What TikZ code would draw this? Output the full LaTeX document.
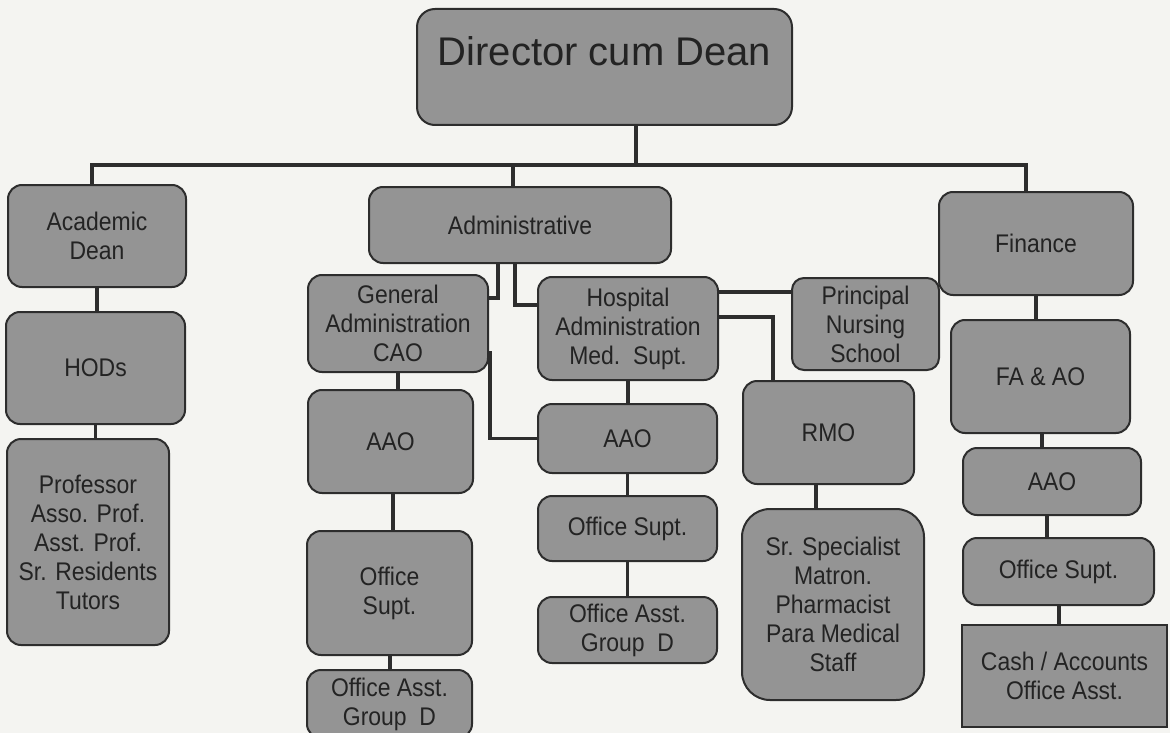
\documentclass[tikz,border=0pt]{standalone}
\usepackage{fontspec}
\setmainfont{Liberation Sans}
\newfontfamily\boxfont{Liberation Sans}[FakeStretch=0.9]
\definecolor{bg}{RGB}{244,244,241}
\definecolor{boxgray}{RGB}{148,148,148}
\definecolor{edge}{RGB}{45,45,45}
\definecolor{txt}{RGB}{35,35,35}
\definecolor{wire}{RGB}{45,45,45}
\tikzset{
  box/.style={draw=edge, line width=2pt, fill=boxgray, rounded corners=14pt,
    align=center, inner sep=2pt, text=txt, font=\boxfont\fontsize{25.5}{29}\selectfont},
  wire/.style={draw=wire, line width=3.6pt, line cap=rect, line join=miter},
}
\begin{document}
\begin{tikzpicture}[x=1pt,y=-1pt]
\fill[bg] (0,0) rectangle (1170,733);
\useasboundingbox (0,0) rectangle (1170,733);

% top
\node[box, anchor=north, rounded corners=18pt, minimum width=375pt, inner ysep=0pt,
      text height=57pt, text depth=59pt, font=\fontsize{40}{48}\selectfont]
      (dir) at (604.5,8) {Director cum Dean};

% academic column
\node[box, minimum width=178pt, minimum height=102pt] (acad) at (97,236) {Academic\\Dean};
\node[box, minimum width=179pt, minimum height=112pt] (hods) at (95.5,368) {HODs};
\node[box, minimum width=162pt, minimum height=206pt] (prof) at (88,542)
  {Professor\\Asso. Prof.\\Asst. Prof.\\Sr. Residents\\Tutors};

% administrative
\node[box, minimum width=302pt, minimum height=76pt] (admin) at (520,225) {Administrative};
\node[box, minimum width=180pt, minimum height=97pt] (ga) at (398,323.5)
  {General\\Administration\\CAO};
\node[box, minimum width=165pt, minimum height=103pt] (gaaao) at (390.5,441.5) {AAO};
\node[box, minimum width=165pt, minimum height=124pt] (gaos) at (389.5,593) {Office\\Supt.};
\node[box, minimum width=165pt, minimum height=68pt] (gaoa) at (389.5,704)
  {Office Asst.\\Group\ \ D};

\node[box, minimum width=180pt, minimum height=103pt] (hosp) at (628,328.5)
  {Hospital\\Administration\\Med.\ \ Supt.};
\node[box, minimum width=179pt, minimum height=69pt] (haao) at (627.5,438.5) {AAO};
\node[box, minimum width=179pt, minimum height=65pt] (hos) at (627.5,528.5) {Office Supt.};
\node[box, minimum width=179pt, minimum height=66pt] (hoa) at (627.5,630)
  {Office Asst.\\Group\ \ D};

\node[box, rounded corners=12pt, minimum width=147pt, minimum height=92pt] (pns) at (865.5,324)
  {Principal\\Nursing\\School};
\node[box, minimum width=171pt, minimum height=103pt] (rmo) at (828.5,432.5) {RMO};
\node[box, rounded corners=28pt, minimum width=182pt, minimum height=191pt] (srs) at (833,604.5)
  {Sr. Specialist\\Matron.\\Pharmacist\\Para Medical\\Staff};

% finance
\node[box, minimum width=194pt, minimum height=103pt] (fin) at (1036,243.5) {Finance};
\node[box, minimum width=179pt, minimum height=113pt] (faao) at (1040.5,376.5) {FA \& AO};
\node[box, minimum width=178pt, minimum height=67pt] (faaao) at (1052,481.5) {AAO};
\node[box, minimum width=191pt, minimum height=67pt] (fos) at (1058.5,571.5) {Office Supt.};
\node[box, rounded corners=0pt, minimum width=205pt, minimum height=102pt] (cash) at (1064.5,676)
  {Cash / Accounts\\Office Asst.};

% bus
\coordinate (busL) at (92,165);
\coordinate (busR) at (1026,165);
\coordinate (busD) at (636,165);
\coordinate (busA) at (513,165);
\draw[wire] (busL) -- (busR);
\draw[wire] (dir.south -| busD) -- (busD);
\draw[wire] (busL) -- (busL |- acad.north);
\draw[wire] (busA) -- (busA |- admin.north);
\draw[wire] (busR) -- (busR |- fin.north);

% academic chain
\draw[wire] (acad.south) -- (acad.south |- hods.north);
\draw[wire] (hods.south) -- (hods.south |- prof.north);

% administrative branches
\coordinate (k1) at (498,298);
\coordinate (k2) at (515,305);
\coordinate (k3) at (490,353);
\draw[wire] (admin.south -| k1) -- (k1) -- (k1 -| ga.east);
\draw[wire] (admin.south -| k2) -- (k2) -- (k2 -| hosp.west);
\draw[wire] (ga.east |- k3) -- (k3) |- (haao.west);

\draw[wire] (ga.south) -- (ga.south |- gaaao.north);
\coordinate (c1) at (393,0);
\draw[wire] (gaaao.south -| c1) -- (gaos.north -| c1);
\coordinate (c2) at (390,0);
\draw[wire] (gaos.south -| c2) -- (gaoa.north -| c2);

\draw[wire] (hosp.south) -- (hosp.south |- haao.north);
\draw[wire] (haao.south) -- (haao.south |- hos.north);
\draw[wire] (hos.south) -- (hos.south |- hoa.north);

% hospital to right
\coordinate (k4) at (0,292);
\coordinate (k5) at (773,317);
\draw[wire] (hosp.east |- k4) -- (pns.west |- k4);
\draw[wire] (hosp.east |- k5) -- (k5) -- (k5 |- rmo.north);
\coordinate (c3) at (816,0);
\draw[wire] (rmo.south -| c3) -- (srs.north -| c3);

% finance chain
\draw[wire] (fin.south) -- (fin.south |- faao.north);
\coordinate (c4) at (1042,0);
\draw[wire] (faao.south -| c4) -- (faaao.north -| c4);
\coordinate (c5) at (1047,0);
\draw[wire] (faaao.south -| c5) -- (fos.north -| c5);
\coordinate (c6) at (1059,0);
\draw[wire] (fos.south -| c6) -- (cash.north -| c6);
\end{tikzpicture}
\end{document}
